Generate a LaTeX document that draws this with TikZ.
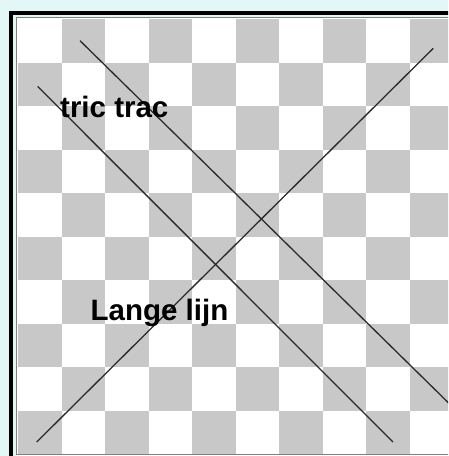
\documentclass[tikz,border=0pt]{standalone}
\usepackage{fontspec}
\setmainfont{Liberation Sans}
\definecolor{bgcyan}{HTML}{E4F7F7}
\definecolor{cellgray}{HTML}{C8C8C8}
\definecolor{linegray}{HTML}{2A2A2A}
\begin{document}
\begin{tikzpicture}[x=1pt,y=-1pt,
  stroke/.style={draw=linegray,line width=1.3pt},
  label/.style={font=\fontsize{29.5}{31}\selectfont\bfseries,inner sep=0pt,anchor=base west,text=black}]
\useasboundingbox (0,0) rectangle (448,456);
\clip (0,0) rectangle (448,456);
\fill[bgcyan] (0,0) rectangle (448,456);
% board
\fill[white] (17,18) rectangle (460,470);
\foreach \i in {0,...,9}{
  \foreach \j in {0,...,9}{
    \pgfmathtruncatemacro{\cellpar}{mod(\i+\j,2)}
    \ifnum\cellpar=1
      \fill[cellgray] ({18+43.5*\i},{19+43.5*\j}) rectangle ({18+43.5*(\i+1)},{19+43.5*(\j+1)});
    \fi
  }
}
% frames
\draw[black,line width=4pt] (11,13) rectangle (470,480);
\draw[gray,line width=1pt] (16.5,17.5) rectangle (470,454);
% lines
\coordinate (a1) at (37.7,86.5);
\coordinate (a2) at (393,442);
\coordinate (b1) at (80,40.7);
\coordinate (b2) at (470,424);
\coordinate (c1) at (36.7,442);
\coordinate (c2) at (433.3,48.3);
\draw[stroke] (a1) -- (a2);
\draw[stroke] (b1) -- (b2);
\draw[stroke] (c1) -- (c2);
% texts
\node[label] (t1) at (60,117) {tric trac};
\node[label] (t2) at (90.5,320) {Lange lijn};
\end{tikzpicture}
\end{document}
